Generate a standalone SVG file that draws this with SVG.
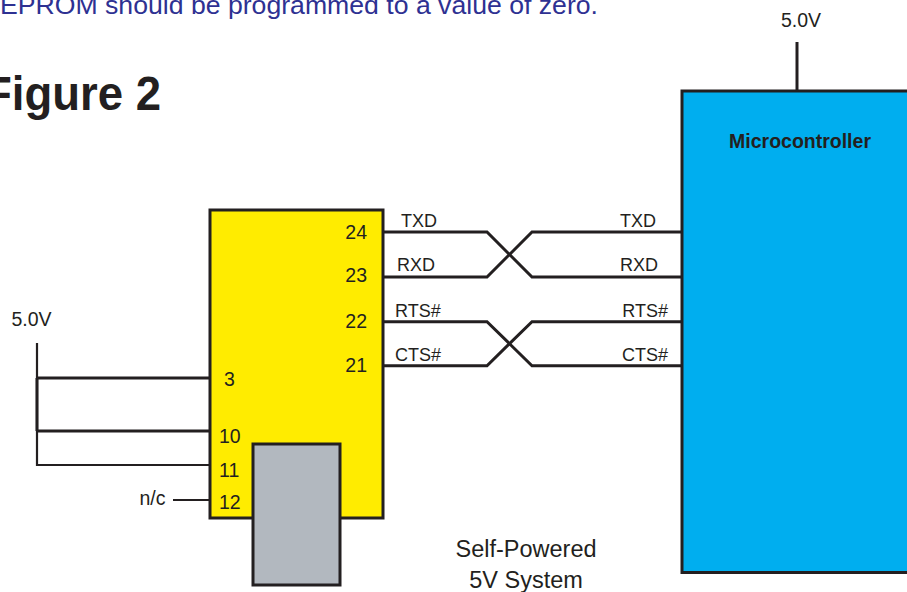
<svg xmlns="http://www.w3.org/2000/svg" width="907" height="592" viewBox="0 0 907 592">
<style>
text{font-family:"Liberation Sans",Arial,sans-serif;fill:#231f20}
.t{font-size:19.5px}
.s{font-size:18px}
.w{fill:none;stroke:#231f20;stroke-width:3;stroke-linejoin:miter}
.thin{fill:none;stroke:#231f20;stroke-width:2.2}
</style>
<rect width="907" height="592" fill="#fff"/>
<text x="0" y="14" font-size="26.5" style="fill:#2e3192" textLength="598" lengthAdjust="spacingAndGlyphs">EPROM should be programmed to a value of zero.</text>
<text x="-16" y="110" font-size="48" font-weight="bold" textLength="177" lengthAdjust="spacingAndGlyphs">Figure 2</text>

<g id="micro">
<rect x="682" y="91" width="240" height="481.5" fill="#00aeef" stroke="#231f20" stroke-width="3"/>
<text x="800" y="148" text-anchor="middle" font-size="19.5" font-weight="bold">Microcontroller</text>
<text x="656" y="226.7" text-anchor="end" class="s">TXD</text>
<text x="658" y="271" text-anchor="end" class="s">RXD</text>
<text x="668" y="316.7" text-anchor="end" class="s">RTS#</text>
<text x="668" y="360.7" text-anchor="end" class="s">CTS#</text>
</g>

<g id="vcc-right">
<line x1="797" y1="42" x2="797" y2="91" class="w"/>
<text x="801" y="26.7" text-anchor="middle" class="t">5.0V</text>
</g>

<g id="chip">
<rect x="210" y="210" width="173" height="308" fill="#ffec00" stroke="#231f20" stroke-width="3"/>
<text x="367" y="239.3" text-anchor="end" class="t">24</text>
<text x="367" y="281.7" text-anchor="end" class="t">23</text>
<text x="367" y="327.7" text-anchor="end" class="t">22</text>
<text x="367" y="371.7" text-anchor="end" class="t">21</text>
<text x="224" y="386" class="t">3</text>
<text x="219" y="442.7" class="t">10</text>
<text x="219" y="476.7" class="t">11</text>
<text x="219" y="509.3" class="t">12</text>
<text x="401" y="226.7" class="s">TXD</text>
<text x="397" y="271" class="s">RXD</text>
<text x="395" y="316.7" class="s">RTS#</text>
<text x="395" y="360.7" class="s">CTS#</text>
</g>

<g id="module">
<rect x="253" y="444" width="87" height="141" fill="#b2b8bf" stroke="#231f20" stroke-width="3"/>
</g>

<g id="vcc-left">
<text x="31.5" y="326" text-anchor="middle" class="t">5.0V</text>
</g>

<g id="nc">
<text x="139.5" y="505" class="t">n/c</text>
</g>

<g id="label">
<text x="526" y="557" text-anchor="middle" font-size="23.5">Self-Powered</text>
<text x="526" y="588" text-anchor="middle" font-size="23.5">5V System</text>
</g>

<g id="connectors">
<polyline points="383,232 487,232 532,277 682,277" class="w"/>
<polyline points="383,277 487,277 532,232 682,232" class="w"/>
<polyline points="383,321.7 487,321.7 532,365.7 682,365.7" class="w"/>
<polyline points="383,365.7 487,365.7 532,321.7 682,321.7" class="w"/>
<polyline points="37,343 37,465 210,465" class="thin"/>
<line x1="37" y1="378" x2="37" y2="431" class="w"/>
<line x1="37" y1="378" x2="210" y2="378" class="w"/>
<line x1="37" y1="431" x2="210" y2="431" class="w"/>
<line x1="173" y1="500" x2="210" y2="500" class="thin"/>
</g>
</svg>
